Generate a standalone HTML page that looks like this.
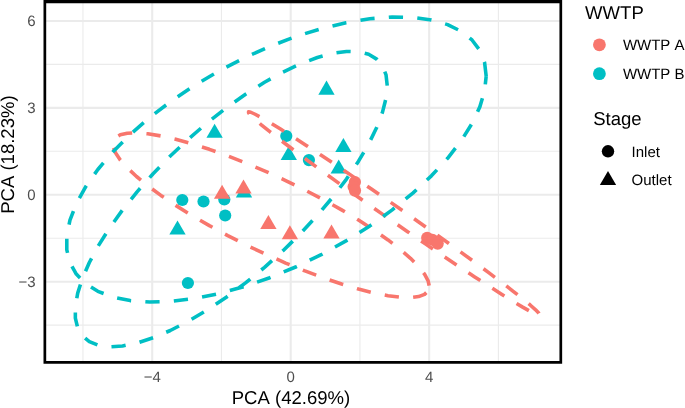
<!DOCTYPE html>
<html><head><meta charset="utf-8"><style>
html,body{margin:0;padding:0;background:#fff;width:685px;height:408px;overflow:hidden}
svg{display:block;will-change:transform}
text{font-family:"Liberation Sans",sans-serif;font-kerning:none;text-rendering:geometricPrecision}
</style></head><body>
<svg width="685" height="408" viewBox="0 0 685 408">
<rect width="685" height="408" fill="#fff"/>
<line x1="82.97" y1="1.75" x2="82.97" y2="362.3" stroke="#EBEBEB" stroke-width="1.1"/>
<line x1="221.45" y1="1.75" x2="221.45" y2="362.3" stroke="#EBEBEB" stroke-width="1.1"/>
<line x1="359.93" y1="1.75" x2="359.93" y2="362.3" stroke="#EBEBEB" stroke-width="1.1"/>
<line x1="498.41" y1="1.75" x2="498.41" y2="362.3" stroke="#EBEBEB" stroke-width="1.1"/>
<line x1="44.85" y1="64.41" x2="560.8" y2="64.41" stroke="#EBEBEB" stroke-width="1.1"/>
<line x1="44.85" y1="151.32" x2="560.8" y2="151.32" stroke="#EBEBEB" stroke-width="1.1"/>
<line x1="44.85" y1="238.24" x2="560.8" y2="238.24" stroke="#EBEBEB" stroke-width="1.1"/>
<line x1="44.85" y1="325.14" x2="560.8" y2="325.14" stroke="#EBEBEB" stroke-width="1.1"/>
<line x1="152.21" y1="1.75" x2="152.21" y2="362.3" stroke="#EBEBEB" stroke-width="2.1"/>
<line x1="290.69" y1="1.75" x2="290.69" y2="362.3" stroke="#EBEBEB" stroke-width="2.1"/>
<line x1="429.17" y1="1.75" x2="429.17" y2="362.3" stroke="#EBEBEB" stroke-width="2.1"/>
<line x1="44.85" y1="20.96" x2="560.8" y2="20.96" stroke="#EBEBEB" stroke-width="2.1"/>
<line x1="44.85" y1="107.87" x2="560.8" y2="107.87" stroke="#EBEBEB" stroke-width="2.1"/>
<line x1="44.85" y1="194.78" x2="560.8" y2="194.78" stroke="#EBEBEB" stroke-width="2.1"/>
<line x1="44.85" y1="281.69" x2="560.8" y2="281.69" stroke="#EBEBEB" stroke-width="2.1"/>
<path d="M326.50,80.59 L334.65,94.70 L318.35,94.70 Z" fill="#00BFC4"/>
<circle cx="286.30" cy="136.00" r="6.1" fill="#00BFC4"/>
<path d="M214.60,123.69 L222.75,137.80 L206.45,137.80 Z" fill="#00BFC4"/>
<path d="M288.80,145.89 L296.95,160.00 L280.65,160.00 Z" fill="#00BFC4"/>
<circle cx="308.90" cy="160.10" r="6.1" fill="#00BFC4"/>
<path d="M343.40,137.89 L351.55,152.00 L335.25,152.00 Z" fill="#00BFC4"/>
<path d="M338.70,159.49 L346.85,173.60 L330.55,173.60 Z" fill="#00BFC4"/>
<circle cx="182.30" cy="200.00" r="6.1" fill="#00BFC4"/>
<circle cx="203.50" cy="201.50" r="6.1" fill="#00BFC4"/>
<circle cx="224.30" cy="199.50" r="6.1" fill="#00BFC4"/>
<circle cx="225.20" cy="215.50" r="6.1" fill="#00BFC4"/>
<path d="M244.00,183.29 L252.15,197.40 L235.85,197.40 Z" fill="#00BFC4"/>
<path d="M177.50,220.39 L185.65,234.50 L169.35,234.50 Z" fill="#00BFC4"/>
<circle cx="187.90" cy="283.00" r="6.1" fill="#00BFC4"/>
<path d="M222.10,184.69 L230.25,198.80 L213.95,198.80 Z" fill="#F8766D"/>
<path d="M243.50,179.39 L251.65,193.50 L235.35,193.50 Z" fill="#F8766D"/>
<path d="M268.40,214.89 L276.55,229.00 L260.25,229.00 Z" fill="#F8766D"/>
<path d="M289.90,225.19 L298.05,239.30 L281.75,239.30 Z" fill="#F8766D"/>
<path d="M331.50,224.49 L339.65,238.60 L323.35,238.60 Z" fill="#F8766D"/>
<circle cx="354.90" cy="182.10" r="6.1" fill="#F8766D"/>
<circle cx="353.60" cy="186.80" r="6.1" fill="#F8766D"/>
<circle cx="355.00" cy="190.60" r="6.1" fill="#F8766D"/>
<circle cx="427.20" cy="237.80" r="6.1" fill="#F8766D"/>
<circle cx="432.40" cy="239.80" r="6.1" fill="#F8766D"/>
<circle cx="437.70" cy="243.60" r="6.1" fill="#F8766D"/>
<path d="M540.01,315.02 L538.91,313.17 L535.61,309.81 L530.16,304.99 L522.66,298.79 L513.20,291.29 L501.94,282.62 L489.05,272.90 L474.72,262.28 L459.17,250.92 L442.63,239.00 L425.36,226.69 L407.61,214.18 L389.66,201.67 L371.78,189.33 L354.23,177.36 L337.30,165.94 L321.22,155.25 L306.25,145.43 L292.61,136.65 L280.51,129.04 L270.14,122.71 L261.64,117.75 L255.15,114.25 L250.77,112.25 L248.57,111.79 L248.57,112.87 L250.77,115.48 L255.15,119.58 L261.64,125.10 L270.14,131.96 L280.51,140.06 L292.61,149.28 L306.25,159.47 L321.22,170.47 L337.30,182.14 L354.23,194.28 L371.78,206.71 L389.66,219.24 L407.61,231.69 L425.36,243.87 L442.63,255.58 L459.17,266.66 L474.72,276.94 L489.05,286.25 L501.94,294.47 L513.20,301.45 L522.66,307.11 L530.16,311.34 L535.61,314.10 L538.91,315.33 L540.01,315.02" fill="none" stroke="#F8766D" stroke-width="3.57" stroke-dasharray="14.260 14.260" stroke-dashoffset="26.60" stroke-linecap="butt" stroke-linejoin="round"/>
<path d="M429.32,286.41 L428.12,280.78 L424.54,274.15 L418.63,266.64 L410.49,258.34 L400.23,249.39 L388.02,239.92 L374.03,230.07 L358.48,220.01 L341.60,209.86 L323.66,199.80 L304.92,189.98 L285.66,180.53 L266.19,171.62 L246.79,163.36 L227.75,155.89 L209.38,149.32 L191.93,143.74 L175.69,139.25 L160.90,135.92 L147.77,133.78 L136.51,132.88 L127.29,133.23 L120.25,134.82 L115.50,137.63 L113.11,141.61 L113.11,146.71 L115.50,152.85 L120.25,159.94 L127.29,167.86 L136.51,176.50 L147.77,185.73 L160.90,195.40 L175.69,205.38 L191.93,215.50 L209.38,225.62 L227.75,235.58 L246.79,245.24 L266.19,254.44 L285.66,263.04 L304.92,270.92 L323.66,277.95 L341.60,284.04 L358.48,289.08 L374.03,293.00 L388.02,295.74 L400.23,297.26 L410.49,297.54 L418.63,296.57 L424.54,294.36 L428.12,290.96 L429.32,286.41" fill="none" stroke="#F8766D" stroke-width="3.57" stroke-dasharray="14.295 14.295" stroke-dashoffset="27.90" stroke-linecap="butt" stroke-linejoin="round"/>
<path d="M486.18,76.13 L484.59,62.54 L479.84,50.42 L472.00,39.96 L461.20,31.31 L447.60,24.60 L431.40,19.94 L412.84,17.39 L392.22,17.00 L369.84,18.77 L346.04,22.67 L321.19,28.64 L295.65,36.60 L269.82,46.42 L244.09,57.96 L218.85,71.04 L194.48,85.45 L171.34,100.99 L149.80,117.42 L130.18,134.48 L112.77,151.92 L97.84,169.48 L85.61,186.89 L76.28,203.88 L69.97,220.20 L66.80,235.60 L66.80,249.84 L69.97,262.72 L76.28,274.03 L85.61,283.60 L97.84,291.30 L112.77,296.99 L130.18,300.61 L149.80,302.08 L171.34,301.39 L194.48,298.55 L218.85,293.60 L244.09,286.62 L269.82,277.72 L295.65,267.02 L321.19,254.69 L346.04,240.91 L369.84,225.91 L392.22,209.90 L412.84,193.12 L431.40,175.83 L447.60,158.30 L461.20,140.78 L472.00,123.55 L479.84,106.87 L484.59,90.98 L486.18,76.13" fill="none" stroke="#00BFC4" stroke-width="3.57" stroke-dasharray="14.265 14.265" stroke-dashoffset="28.50" stroke-linecap="butt" stroke-linejoin="round"/>
<path d="M387.22,85.65 L386.04,74.87 L382.51,65.97 L376.68,59.09 L368.65,54.33 L358.53,51.77 L346.48,51.44 L332.69,53.34 L317.35,57.46 L300.71,63.72 L283.01,72.04 L264.53,82.28 L245.54,94.29 L226.33,107.88 L207.19,122.86 L188.42,139.00 L170.30,156.04 L153.09,173.74 L137.07,191.82 L122.48,210.01 L109.53,228.04 L98.43,245.63 L89.34,262.51 L82.40,278.42 L77.71,293.14 L75.35,306.43 L75.35,318.09 L77.71,327.95 L82.40,335.85 L89.34,341.68 L98.43,345.35 L109.53,346.80 L122.48,346.01 L137.07,342.99 L153.09,337.79 L170.30,330.49 L188.42,321.20 L207.19,310.05 L226.33,297.22 L245.54,282.91 L264.53,267.32 L283.01,250.70 L300.71,233.29 L317.35,215.37 L332.69,197.20 L346.48,179.06 L358.53,161.22 L368.65,143.95 L376.68,127.52 L382.51,112.18 L386.04,98.15 L387.22,85.65" fill="none" stroke="#00BFC4" stroke-width="3.57" stroke-dasharray="14.250 14.250" stroke-dashoffset="28.40" stroke-linecap="butt" stroke-linejoin="round"/>
<path d="M43.50,0 H562.15 V363.65 H43.50 Z M46.20,3.2 V360.95 H559.45 V3.2 Z" fill="#000" fill-rule="evenodd"/>
<text x="35.5" y="26.20" text-anchor="end" font-size="15.0" fill="#4D4D4D">6</text>
<text x="35.5" y="113.11" text-anchor="end" font-size="15.0" fill="#4D4D4D">3</text>
<text x="35.5" y="200.01" text-anchor="end" font-size="15.0" fill="#4D4D4D">0</text>
<text x="35.5" y="286.93" text-anchor="end" font-size="15.0" fill="#4D4D4D">−3</text>
<text x="152.21" y="382.4" text-anchor="middle" font-size="15.0" fill="#4D4D4D">−4</text>
<text x="290.69" y="382.4" text-anchor="middle" font-size="15.0" fill="#4D4D4D">0</text>
<text x="429.17" y="382.4" text-anchor="middle" font-size="15.0" fill="#4D4D4D">4</text>
<text x="290.95" y="404.0" text-anchor="middle" font-size="18.55" fill="#000">PCA (42.69%)</text>
<text transform="translate(13.9,154.6) rotate(-90)" x="0" y="0" text-anchor="middle" font-size="18.55" fill="#000">PCA (18.23%)</text>
<text x="585.1" y="18.8" font-size="18.55" fill="#000">WWTP</text>
<circle cx="599.40" cy="44.80" r="6.4" fill="#F8766D"/>
<circle cx="599.40" cy="73.70" r="6.4" fill="#00BFC4"/>
<text x="622.9" y="50.1" font-size="15.0" fill="#000">WWTP A</text>
<text x="622.9" y="79.0" font-size="15.0" fill="#000">WWTP B</text>
<text x="593.2" y="125.4" font-size="18.55" fill="#000">Stage</text>
<circle cx="608.00" cy="151.30" r="6.2" fill="#000"/>
<path d="M608.00,170.89 L616.15,185.00 L599.85,185.00 Z" fill="#000"/>
<text x="631.6" y="156.8" font-size="15.0" fill="#000">Inlet</text>
<text x="631.6" y="185.3" font-size="15.0" fill="#000">Outlet</text>
</svg>
</body></html>
